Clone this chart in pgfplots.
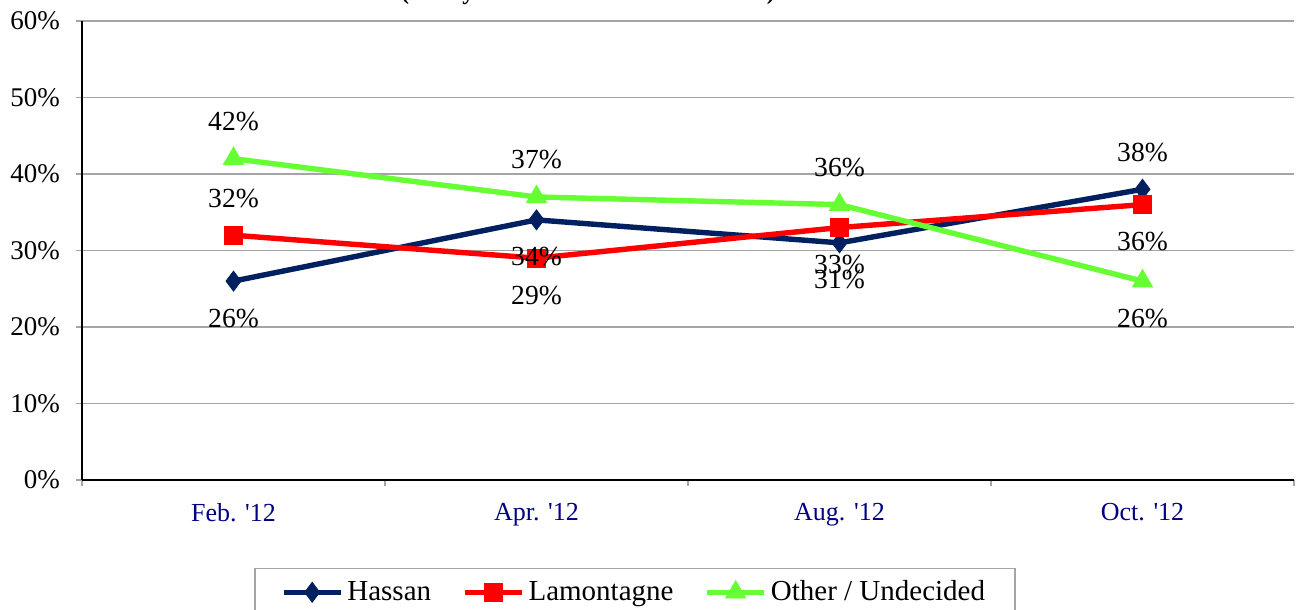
\documentclass[border=0pt]{standalone}
\usepackage{fontspec}
\setmainfont{Liberation Serif}
\usepackage{pgfplots}
\pgfplotsset{compat=1.18}
\usepackage{pgfplotstable}
\definecolor{navyline}{RGB}{0,32,96}
\definecolor{redline}{RGB}{255,0,0}
\definecolor{greenline}{RGB}{102,255,51}
\definecolor{ticknavy}{RGB}{0,0,128}
\definecolor{gridgray}{RGB}{165,165,165}

\pgfplotstableread{
x y pos
0 26 -1
1 34 -1
2 31 -1
3 38 1
}\hassan
\pgfplotstableread{
x y pos
0 32 1
1 29 -1
2 33 -1
3 36 -1
}\lamont
\pgfplotstableread{
x y pos
0 42 1
1 37 1
2 36 1
3 26 -1
}\other

\pgfplotsset{
  lbl/.style={draw=none, mark=none, forget plot,
    visualization depends on={\thisrow{pos}\as\lblpos},
    nodes near coords={\pgfmathprintnumber[assume math mode=true]{\pgfplotspointmeta}\%},
    every node near coord/.append style={anchor=center, yshift=\lblpos*18.5pt,
      font=\fontsize{13.8}{16}\selectfont, text=black}},
}

\begin{document}
\begin{tikzpicture}
\begin{axis}[
  scale only axis, width=606pt, height=229.5pt,
  xmin=-0.5, xmax=3.5, ymin=0, ymax=60,
  axis x line*=bottom, axis y line*=left,
  axis line style={black, line width=0.6pt, -},
  tick align=outside, major tick length=3pt,
  tick style={gridgray, line width=0.6pt},
  xtick={-0.5,0.5,1.5,2.5,3.5}, xticklabels={},
  extra x ticks={0,1,2,3},
  extra x tick labels={Feb. \textquotesingle12, Apr. \textquotesingle12, Aug. \textquotesingle12, Oct. \textquotesingle12},
  extra x tick style={major tick length=0pt},
  x tick label style={font=\fontsize{13}{15}\selectfont, text=ticknavy, yshift=-8pt},
  ytick={0,10,...,60},
  yticklabel={\pgfmathprintnumber[assume math mode=true]{\tick}\%},
  y tick label style={font=\fontsize{13.5}{16}\selectfont, text=black, xshift=-4.5pt},
  ymajorgrids, grid style={gridgray, line width=0.6pt},
  clip mode=individual,
  legend columns=3,
  legend style={at={(0.4563,-0.192)}, anchor=north, draw=gridgray, line width=0.6pt,
    font=\fontsize{14.5}{17}\selectfont, inner xsep=13pt, inner ysep=4pt,
    /tikz/every even column/.append style={column sep=13.5pt}},
  legend image code/.code={\draw[mark repeat=2, mark phase=2, #1] plot coordinates {(0pt,0pt) (14.25pt,0pt) (28.5pt,0pt)};},
]
\addplot[navyline, line width=2.7pt, mark=diamond*, mark size=5pt, mark options={solid, line width=0.4pt}] table[x=x,y=y] {\hassan};
\addlegendentry{Hassan}
\addplot[redline, line width=2.7pt, mark=square*, mark size=4.5pt, mark options={solid, line width=0.4pt}] table[x=x,y=y] {\lamont};
\addlegendentry{Lamontagne}
\addplot[greenline, line width=2.7pt, mark=triangle*, mark size=5.8pt, mark options={solid, line width=0.4pt}] table[x=x,y=y] {\other};
\addlegendentry{Other / Undecided}
\addplot[lbl] table[x=x,y=y] {\hassan};
\addplot[lbl] table[x=x,y=y] {\lamont};
\addplot[lbl] table[x=x,y=y] {\other};
\end{axis}
\node[anchor=base, font=\bfseries\fontsize{12}{14}\selectfont] at (253pt,240pt) {(Likely NH General Election Voters)};
\pgfresetboundingbox
\useasboundingbox (-41pt,-65pt) rectangle (607pt,240pt);
\end{tikzpicture}
\end{document}
